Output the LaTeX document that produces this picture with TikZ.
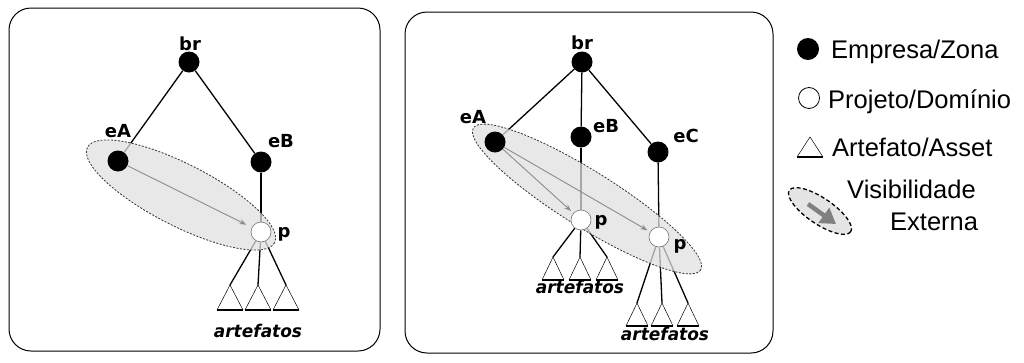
\documentclass[tikz,border=0pt]{standalone}
\usepackage{fontspec}
\setmainfont{Liberation Sans}
\newfontfamily\tagfont{DejaVu Sans}
\usetikzlibrary{arrows.meta}
\pgfdeclarelayer{edges}
\pgfdeclarelayer{haze}
\pgfsetlayers{edges,haze,main}
\begin{document}
\begin{tikzpicture}[x=1pt,y=-1pt,
  panel/.style={draw=black,line width=1pt,rounded corners=22pt},
  zone/.style={circle,fill=black,inner sep=0pt,minimum size=21pt},
  proj/.style={circle,draw=black!55,line width=0.6pt,fill=white,inner sep=0pt,minimum size=20pt},
  link/.style={line width=1.3pt},
  vis/.style={draw=black!80,dash pattern=on 2pt off 1.5pt,line width=0.8pt,fill=black!12,fill opacity=0.75},
  visarrow/.style={draw=black!45,line width=0.9pt,-{Stealth[length=7pt,width=5pt]}},
  tag/.style={font=\tagfont\fontsize{18}{18}\selectfont\bfseries,inner sep=0pt,anchor=base},
  arttag/.style={font=\tagfont\fontsize{17.5}{17.5}\selectfont\bfseries\itshape,xscale=0.97,inner sep=0pt,anchor=base},
  legtext/.style={font=\fontsize{25.5}{25.5}\selectfont,inner sep=0pt,anchor=base west},
  artifact/.pic={
    \coordinate (-apex) at (0,0);
    \draw[line width=0.5pt] (-\pgfkeysvalueof{/tikz/artw},\pgfkeysvalueof{/tikz/arth}) -- (0,0) -- (\pgfkeysvalueof{/tikz/artw},\pgfkeysvalueof{/tikz/arth});
    \draw[line width=1.6pt] (-\pgfkeysvalueof{/tikz/artw},\pgfkeysvalueof{/tikz/arth}) -- (\pgfkeysvalueof{/tikz/artw},\pgfkeysvalueof{/tikz/arth});
  },
  artw/.initial=13, arth/.initial=25,
]
\useasboundingbox (0,0) rectangle (1024,362);

% ---------------- panels ----------------
\draw[panel] (9,8) rectangle (380,351);
\draw[panel] (405,12) rectangle (773,353);

% ---------------- left tree ----------------
\node[zone] (LbR) at (189,62) {};
\node[zone] (LeA) at (118,161) {};
\node[zone] (LeB) at (261,162) {};
\node[proj] (Lp)  at (261,232) {};
\pic (La1) at (230,285) {artifact};
\pic (La2) at (258,285) {artifact};
\pic (La3) at (286,285) {artifact};

\node[tag] (LbRt) at (190,50) {br};
\node[tag] (LeAt) at (118,137) {eA};
\node[tag] (LeBt) at (281,147) {eB};
\node[tag] (Lpt)  at (284,237) {p};
\node[arttag] (Lart) at (258,337) {artefatos};

\begin{pgfonlayer}{edges}
  \draw[link] (LbR) -- (LeA);
  \draw[link] (LbR) -- (LeB);
  \draw[link] (LeB) -- (Lp);
  \draw[link] (Lp) -- (La1-apex);
  \draw[link] (Lp) -- (La2-apex);
  \draw[link] (Lp) -- (La3-apex);
\end{pgfonlayer}
\begin{pgfonlayer}{haze}
  \draw[vis,rotate around={-27:(181,195)}] (181,195) ellipse [x radius=105,y radius=31];
\end{pgfonlayer}
\draw[visarrow,shorten >=6pt] (LeA) -- (Lp);

% ---------------- right tree ----------------
\node[zone] (RbR) at (582,62) {};
\node[zone] (ReA) at (495,142) {};
\node[zone] (ReB) at (581,137) {};
\node[zone] (ReC) at (658,152) {};
\node[proj] (Rp1) at (581,220) {};
\node[proj] (Rp2) at (659,237) {};
\begin{scope}[artw=11,arth=23]
\pic (Ra1) at (553,257) {artifact};
\pic (Ra2) at (580,257) {artifact};
\pic (Ra3) at (607,257) {artifact};
\pic (Rb1) at (637,303) {artifact};
\pic (Rb2) at (662,303) {artifact};
\pic (Rb3) at (688,303) {artifact};
\end{scope}

\node[tag] (RbRt) at (582,49) {br};
\node[tag] (ReAt) at (473,123) {eA};
\node[tag] (ReBt) at (606,132) {eB};
\node[tag] (ReCt) at (686,142) {eC};
\node[tag] (Rp1t) at (601,225) {p};
\node[tag] (Rp2t) at (680,249) {p};
\node[arttag] (Rart1) at (580,293) {artefatos};
\node[arttag] (Rart2) at (665,340) {artefatos};

\begin{pgfonlayer}{edges}
  \draw[link] (RbR) -- (ReA);
  \draw[link] (RbR) -- (ReB);
  \draw[link] (RbR) -- (ReC);
  \draw[link] (ReB) -- (Rp1);
  \draw[link] (ReC) -- (Rp2);
  \draw[link] (Rp1) -- (Ra1-apex);
  \draw[link] (Rp1) -- (Ra2-apex);
  \draw[link] (Rp1) -- (Ra3-apex);
  \draw[link] (Rp2) -- (Rb1-apex);
  \draw[link] (Rp2) -- (Rb2-apex);
  \draw[link] (Rp2) -- (Rb3-apex);
\end{pgfonlayer}
\begin{pgfonlayer}{haze}
  \draw[vis,rotate around={-32:(587,199)}] (587,199) ellipse [x radius=134,y radius=28];
\end{pgfonlayer}
\draw[visarrow,shorten >=3pt] (ReA) -- (Rp1);
\draw[visarrow,shorten >=3pt] (ReA) -- (Rp2);

% ---------------- legend ----------------
\node[zone,minimum size=22pt] (kZone) at (808,49) {};
\node[circle,draw=black,line width=0.8pt,inner sep=0pt,minimum size=21pt] (kProj) at (809,98) {};
\pic[artw=13,arth=20] (kArt) at (810,137) {artifact};
\draw[draw=black,dash pattern=on 4pt off 2.5pt,line width=1.3pt,fill=black!10,rotate around={-34:(820,211)}] (820,211) ellipse [x radius=37,y radius=13];
\coordinate (kVs) at (808,204);
\coordinate (kVe) at (836,224);
\draw[black!50,line width=4.5pt,-{Triangle[length=15pt,width=18pt]}] (kVs) -- (kVe);

\node[legtext] (kZonet) at (831,58) {Empresa/Zona};
\node[legtext] (kProjt) at (828,108) {Projeto/Domínio};
\node[legtext] (kArtt)  at (832,156) {Artefato/Asset};
\node[legtext] (kVist1) at (847,198) {Visibilidade};
\node[legtext] (kVist2) at (890,230) {Externa};
\end{tikzpicture}
\end{document}
